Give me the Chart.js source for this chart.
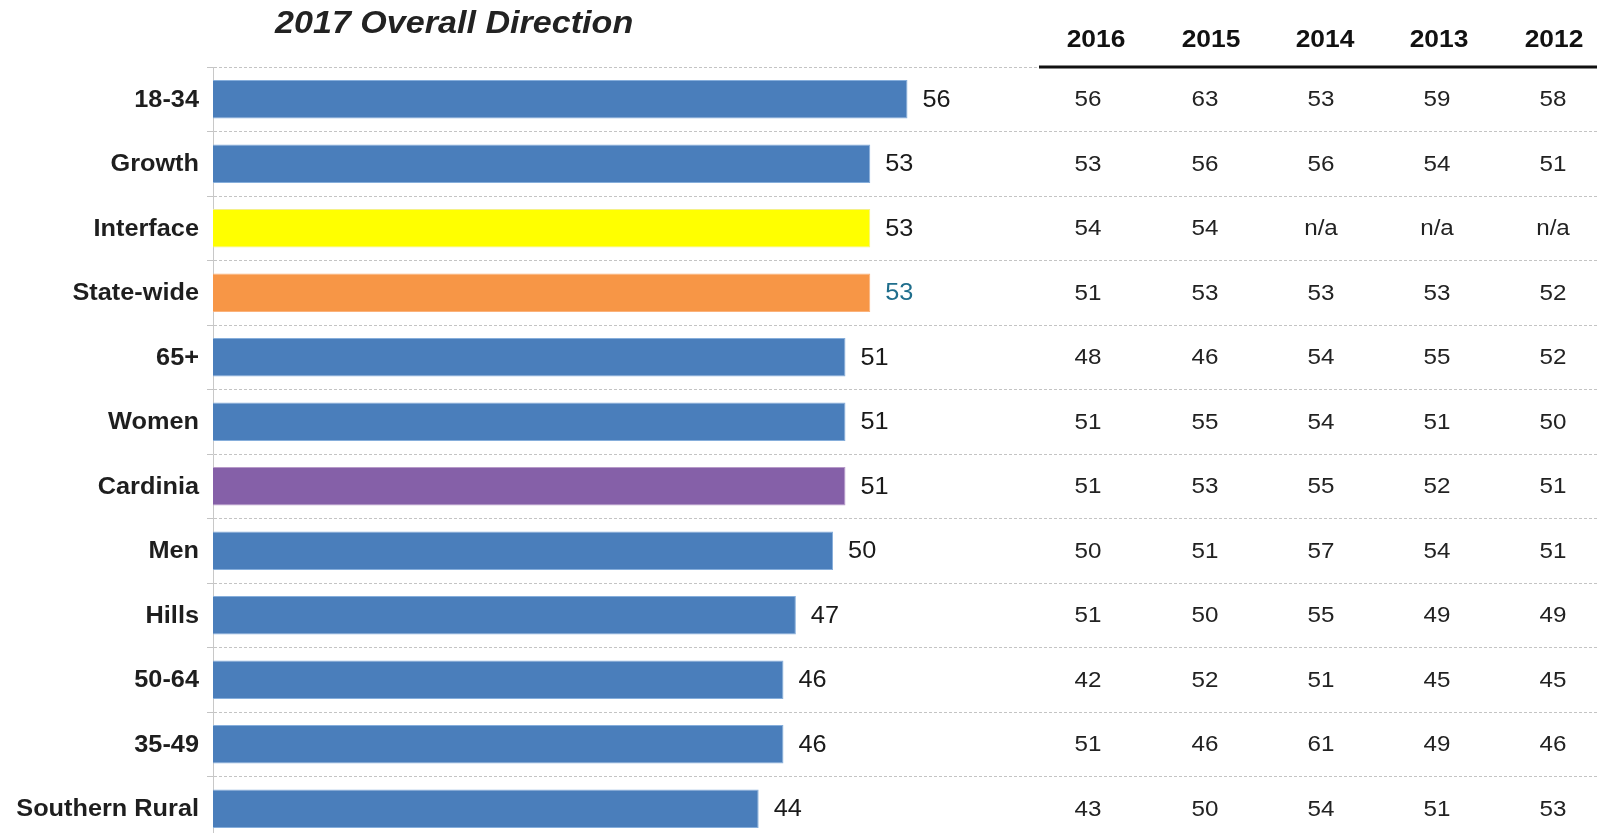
<!DOCTYPE html>
<html>
<head>
<meta charset="utf-8">
<title>2017 Overall Direction</title>
<script src="https://cdn.jsdelivr.net/npm/chart.js@4"></script>
<style>
  html, body { margin: 0; padding: 0; background: #fff; overflow: hidden; }
  #wrap { position: relative; width: 1597px; height: 841px; }
</style>
</head>
<body>
<div id="wrap"><canvas id="directionChart"></canvas></div>
<script>
// Overall direction scores, 2017, with earlier years shown as a table
const categories = ['18-34', 'Growth', 'Interface', 'State-wide', '65+', 'Women',
    'Cardinia', 'Men', 'Hills', '50-64', '35-49', 'Southern Rural'];
const scores2017 = [56, 53, 53, 53, 51, 51, 51, 50, 47, 46, 46, 44];

const years = ['2016', '2015', '2014', '2013', '2012'];
const scores2016 = [56, 53, 54, 51, 48, 51, 51, 50, 51, 42, 51, 43];
const scores2015 = [63, 56, 54, 53, 46, 55, 53, 51, 50, 52, 46, 50];
const scores2014 = [53, 56, 'n/a', 53, 54, 54, 55, 57, 55, 51, 61, 54];
const scores2013 = [59, 54, 'n/a', 53, 55, 51, 52, 54, 49, 45, 49, 51];
const scores2012 = [58, 51, 'n/a', 52, 52, 50, 51, 51, 49, 45, 46, 53];
const pastScores = [scores2016, scores2015, scores2014, scores2013, scores2012];

const FONT = '"Liberation Sans", Arial, sans-serif';
const STRETCH = 1.1; // text in this layout is a little wider than plain Arial

function barColor(name) {
    if (name === 'Interface') return '#ffff00';
    if (name === 'State-wide') return '#f79646';
    if (name === 'Cardinia') return '#8560a8';
    return '#4a7ebb';
}
function barEdge(name) {
    if (name === 'Interface') return '#f4f08a';
    if (name === 'State-wide') return '#fbb27a';
    if (name === 'Cardinia') return '#b79ac8';
    return '#86aedb';
}

function drawText(ctx, text, x, y, align) {
    ctx.save();
    ctx.translate(x, y);
    ctx.scale(STRETCH, 1);
    ctx.textAlign = align;
    ctx.textBaseline = 'middle';
    ctx.fillText(text, 0, 0);
    ctx.restore();
}

// title, category names, value labels and the year table
const decorations = {
    id: 'decorations',
    afterDatasetsDraw(chart) {
        const { ctx, scales } = chart;
        const meta = chart.getDatasetMeta(0);
        ctx.save();

        ctx.fillStyle = '#222';
        ctx.font = 'italic bold 31px ' + FONT;
        drawText(ctx, '2017 Overall Direction', 275, 24, 'left');

        // category names, right aligned against the axis
        ctx.font = 'bold 23px ' + FONT;
        ctx.fillStyle = '#1e1e1e';
        categories.forEach((c, i) => {
            drawText(ctx, c, 199, scales.y.getPixelForValue(i) + 1, 'right');
        });

        // value at the end of each bar
        ctx.font = '23px ' + FONT;
        meta.data.forEach((bar, i) => {
            ctx.fillStyle = categories[i] === 'State-wide' ? '#1f6e8c' : '#1a1a1a';
            drawText(ctx, String(scores2017[i]), bar.x + 15, bar.y + 1, 'left');
        });

        // table header
        const headX = [1096, 1211, 1325, 1439, 1554];
        const colX = [1088, 1205, 1321, 1437, 1553];
        ctx.fillStyle = '#111';
        ctx.font = 'bold 24px ' + FONT;
        years.forEach((y, j) => drawText(ctx, y, headX[j], 40, 'center'));

        ctx.strokeStyle = '#111';
        ctx.lineWidth = 3;
        ctx.beginPath();
        ctx.moveTo(1039, 67);
        ctx.lineTo(chart.width, 67);
        ctx.stroke();

        // table rows
        ctx.font = '22px ' + FONT;
        ctx.fillStyle = '#222';
        categories.forEach((c, i) => {
            const y = scales.y.getPixelForValue(i) + 1;
            pastScores.forEach((col, j) => drawText(ctx, String(col[i]), colX[j], y, 'center'));
        });

        ctx.restore();
    }
};

new Chart(document.getElementById('directionChart'), {
    type: 'bar',
    data: {
        labels: categories,
        datasets: [{
            data: scores2017,
            backgroundColor: categories.map(barColor),
            borderColor: categories.map(barEdge),
            borderWidth: 1,
            borderSkipped: 'left',
            barPercentage: 0.6,
            categoryPercentage: 1.0
        }]
    },
    options: {
        indexAxis: 'y',
        responsive: true,
        maintainAspectRatio: false,
        animation: false,
        layout: { padding: { top: 67, right: 0, bottom: 0, left: 0 } },
        scales: {
            x: {
                display: false,
                min: 0,
                max: 111.6
            },
            y: {
                afterFit(scale) { scale.width = 213; },
                grid: {
                    offset: true,
                    color: '#c4c4c4',
                    lineWidth: 1,
                    tickLength: 6,
                    tickColor: '#c4c4c4'
                },
                border: { display: true, color: '#c8c8c8', width: 1, dash: [3, 2] },
                ticks: { display: false }
            }
        },
        plugins: {
            legend: { display: false },
            tooltip: { enabled: false }
        }
    },
    plugins: [decorations]
});
</script>
</body>
</html>
